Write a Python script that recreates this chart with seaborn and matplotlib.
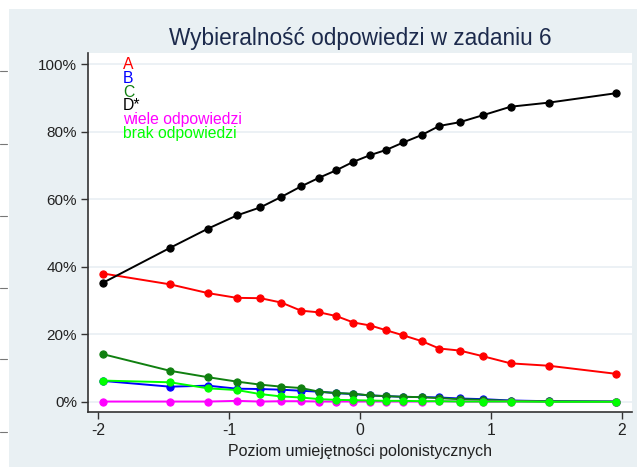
import numpy as np
import pandas as pd
import matplotlib
matplotlib.use('agg')
import matplotlib.pyplot as plt
import seaborn as sns
from matplotlib.patches import Rectangle
from matplotlib.lines import Line2D

sns.set_style('white')
plt.rcParams['font.family'] = ['Liberation Sans', 'DejaVu Sans']
plt.rcParams['axes.unicode_minus'] = False

# poziom umiejetnosci (os x)
poziom = [-1.96, -1.45, -1.16, -0.94, -0.76, -0.60, -0.45, -0.31, -0.18, -0.05,
          0.08, 0.20, 0.33, 0.47, 0.605, 0.76, 0.94, 1.15, 1.44, 1.955]

# odsetek wyborow (%)
odp_a = [38.0, 34.8, 32.2, 30.8, 30.7, 29.4, 27.0, 26.5, 25.4, 23.5,
         22.6, 21.2, 19.7, 18.0, 15.8, 15.2, 13.5, 11.4, 10.7, 8.3]
odp_b = [6.2, 4.5, 4.8, 3.9, 3.8, 3.6, 3.3, 3.0, 2.6, 2.3,
         1.9, 1.7, 1.5, 1.4, 1.3, 1.0, 0.8, 0.4, 0.2, 0.1]
odp_c = [14.1, 9.2, 7.3, 6.0, 5.1, 4.5, 4.1, 3.0, 2.6, 2.4,
         1.9, 1.7, 1.5, 1.4, 1.1, 0.8, 0.6, 0.3, 0.2, 0.1]
odp_d = [35.3, 45.6, 51.3, 55.2, 57.6, 60.7, 63.8, 66.4, 68.6, 71.1,
         73.1, 74.6, 76.8, 79.0, 81.7, 82.8, 84.9, 87.4, 88.6, 91.4]
wiele = [0.1, 0.1, 0.1, 0.3, 0.1, 0.2, 0.2, 0.1, 0.1, 0.1,
         0.1, 0.1, 0.1, 0.1, 0.2, 0.1, 0.1, 0.1, 0.0, 0.0]
brak = [6.3, 5.8, 4.0, 3.5, 2.3, 1.6, 1.3, 0.8, 0.6, 0.5,
        0.4, 0.3, 0.3, 0.2, 0.2, 0.1, 0.1, 0.1, 0.0, 0.0]

nazwy = ['A', 'B', 'C', 'D*', 'wiele odpowiedzi', 'brak odpowiedzi']
kolory = ['#ff0000', '#0000ff', '#108010', '#000000', '#ff00ff', '#00ff00']
serie = [odp_a, odp_b, odp_c, odp_d, wiele, brak]

df = pd.concat([pd.DataFrame({'x': poziom, 'y': np.array(s) / 100, 'odp': n})
                for n, s in zip(nazwy, serie)])

tlo = '#e9f0f3'
fig = plt.figure(figsize=(6.37, 4.67), dpi=100, facecolor='white')
fig.add_artist(Rectangle((9 / 637, 0), 1, 458 / 467, transform=fig.transFigure,
                         facecolor=tlo, edgecolor='none', zorder=0))
for yy in [71, 144, 216, 288, 359, 432]:
    fig.add_artist(Line2D([0, 7 / 637], [1 - yy / 467] * 2, transform=fig.transFigure,
                          color='#777777', lw=0.8))

ax = fig.add_axes([88 / 637, 55 / 467, (632 - 88) / 637, (412 - 53) / 467])
ax.set_facecolor('white')

for n, k in zip(nazwy, kolory):
    d = df[df.odp == n]
    sns.lineplot(data=d, x='x', y='y', color=k, marker='o', markersize=5.2,
                 markeredgecolor=k, lw=1.4, ax=ax, legend=False)

ax.set_xlim(-2.076, 2.076)
ax.set_ylim(-0.03, 1.033)
ax.set_yticks([0, 0.2, 0.4, 0.6, 0.8, 1.0])
ax.set_yticklabels(['0%', '20%', '40%', '60%', '80%', '100%'], fontsize=11, color='#222222')
ax.set_xticks([-2, -1, 0, 1, 2])
ax.set_xticklabels(['-2', '-1', '0', '1', '2'], fontsize=11.3, color='#222222')
ax.grid(axis='y', color='#e9eff3', lw=1.2)
ax.set_axisbelow(True)
ax.tick_params(axis='both', length=5, width=1, color='#333333', direction='out',
               left=True, bottom=True, pad=3)
for s in ['top', 'right']:
    ax.spines[s].set_visible(False)
for s in ['left', 'bottom']:
    ax.spines[s].set_color('#333333')
    ax.spines[s].set_linewidth(1.2)
ax.set_xlabel('Poziom umiejętności polonistycznych', fontsize=11.5, color='#222222', labelpad=4)
ax.set_ylabel('')

fig.text(360 / 637, 1 - 38 / 467, 'Wybieralność odpowiedzi w zadaniu 6', ha='center',
         va='center', fontsize=16.3, color='#1c2a4c')

for i, (n, k) in enumerate(zip(nazwy, kolory)):
    ax.text(-1.81, 0.998 - i * 0.0405, n, color=k, fontsize=11.3, va='center', ha='left')

fig.savefig('out.png', dpi=100, facecolor=fig.get_facecolor())
